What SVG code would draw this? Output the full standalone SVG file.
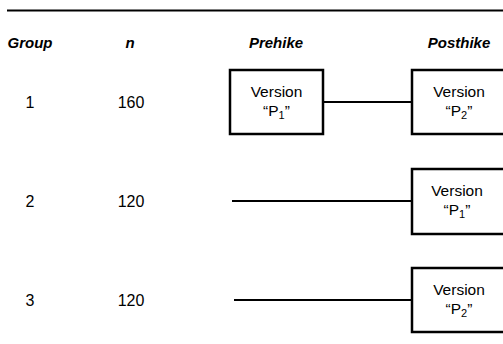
<svg xmlns="http://www.w3.org/2000/svg" width="503" height="344" viewBox="0 0 503 344">
<style>
text{font-family:"Liberation Sans",Arial,sans-serif;fill:#000}
.hd{font-size:15px;font-style:italic;font-weight:bold;text-anchor:middle}
.cell{font-size:16px;text-anchor:middle}
.bt{font-size:15.5px;text-anchor:middle}
.box{fill:#fff;stroke:#000;stroke-width:2.5}
.ln{stroke:#000;stroke-width:2;fill:none}
</style>
<rect width="503" height="344" fill="#fff"/>
<line class="ln" x1="7" y1="10.5" x2="503" y2="10.5"/>
<g id="headers">
<text class="hd" x="30" y="48">Group</text>
<text class="hd" x="130" y="48">n</text>
<text class="hd" x="276" y="48">Prehike</text>
<text class="hd" x="459" y="48">Posthike</text>
</g>
<g id="rowlabels">
<text class="cell" x="30" y="108">1</text>
<text class="cell" x="131" y="108">160</text>
<text class="cell" x="30" y="207">2</text>
<text class="cell" x="131" y="207">120</text>
<text class="cell" x="30" y="306">3</text>
<text class="cell" x="131" y="306">120</text>
</g>
<g id="connectors">
<line class="ln" x1="323" y1="102" x2="412" y2="102"/>
<line class="ln" x1="232" y1="201" x2="412" y2="201"/>
<line class="ln" x1="234" y1="300" x2="412" y2="300"/>
</g>
<g id="g1-pre">
<rect class="box" x="230" y="70" width="93" height="64"/>
<text class="bt" x="276.5" y="97">Version</text>
<text class="bt" x="276.5" y="116">“P<tspan font-size="11" dy="3">1</tspan><tspan dy="-3">”</tspan></text>
</g>
<g id="g1-post">
<rect class="box" x="412" y="70" width="94" height="64"/>
<text class="bt" x="459" y="97">Version</text>
<text class="bt" x="459" y="116">“P<tspan font-size="11" dy="3">2</tspan><tspan dy="-3">”</tspan></text>
</g>
<g id="g2-post">
<rect class="box" x="412" y="169" width="94" height="65"/>
<text class="bt" x="457" y="196">Version</text>
<text class="bt" x="457" y="215">“P<tspan font-size="11" dy="3">1</tspan><tspan dy="-3">”</tspan></text>
</g>
<g id="g3-post">
<rect class="box" x="412" y="268" width="94" height="64"/>
<text class="bt" x="459" y="295">Version</text>
<text class="bt" x="459" y="314">“P<tspan font-size="11" dy="3">2</tspan><tspan dy="-3">”</tspan></text>
</g>
</svg>
